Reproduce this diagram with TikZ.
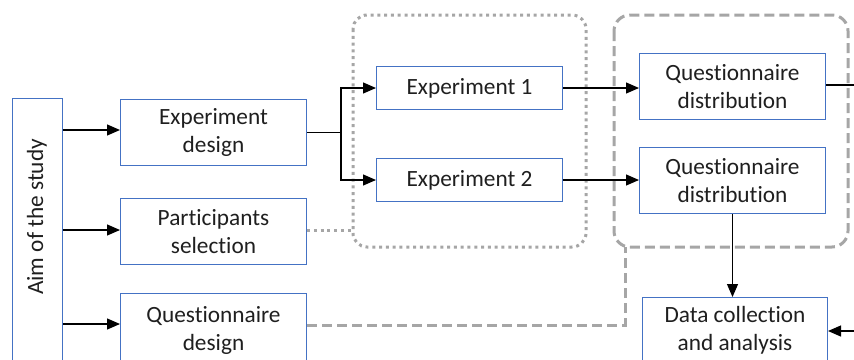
\documentclass[tikz,border=0pt]{standalone}
\usepackage{fontspec}
\setmainfont[Ligatures=NoCommon]{Carlito}
\usetikzlibrary{arrows.meta}
\definecolor{boxblue}{RGB}{68,114,196}
\definecolor{grp}{RGB}{166,166,166}
\begin{document}
\begin{tikzpicture}[x=1pt,y=-1pt,
  box/.style={draw=boxblue,line width=1pt,anchor=north west,inner sep=0pt,
    align=center,font=\fontsize{23.3}{28}\selectfont,text=black!88},
  arr/.style={line width=1.2pt,-{Triangle[length=13pt,width=11pt]}},
  conn/.style={line width=1.2pt},
  dotgrp/.style={draw=grp,line width=3pt,dash pattern=on 3pt off 3.8pt,rounded corners=14pt},
  dashgrp/.style={draw=grp,line width=3pt,dash pattern=on 10pt off 5pt,rounded corners=16pt}]
\useasboundingbox (0,0) rectangle (854,359);
\clip (0,0) rectangle (854,359);
% groups
\draw[dotgrp] (353,15) rectangle (586,247);
\coordinate (grpAleft) at (353,230);
\draw[dashgrp] (614,15) rectangle (848,247);
\coordinate (grpBbottom) at (625,247);
% boxes
\node[box,minimum width=50pt,minimum height=290pt] (aim) at (12,98) {};
\node[rotate=90,font=\fontsize{23.3}{28}\selectfont,text=black!88] (aimtext) at (37,217) {Aim of the study};
\node[box,minimum width=186pt,minimum height=66pt] (ed) at (120,99) {Experiment\\design};
\node[box,minimum width=186pt,minimum height=66pt] (ps) at (120,198) {Participants\\selection};
\node[box,minimum width=186pt,minimum height=74pt] (qdes) at (120,293) {Questionnaire\\design};
\node[box,minimum width=186pt,minimum height=43pt] (e1) at (376,66) {Experiment 1};
\node[box,minimum width=186pt,minimum height=43pt] (e2) at (376,158) {Experiment 2};
\node[box,minimum width=186pt,minimum height=66pt] (qd1) at (639,53) {Questionnaire\\distribution};
\node[box,minimum width=186pt,minimum height=66pt] (qd2) at (639,147) {Questionnaire\\distribution};
\node[box,minimum width=185pt,minimum height=66pt] (dc) at (642,297) {Data collection\\and analysis};
% connectors
\draw[arr] (aim.east |- 0,130) -- (ed.west |- 0,130);
\draw[arr] (aim.east |- 0,230) -- (ps.west |- 0,230);
\draw[arr] (aim.east |- 0,324) -- (qdes.west |- 0,324);
\draw[conn] (ed.east) -- (ed.east -| 341,0) coordinate (split);
\draw[arr] (split) |- (e1.west);
\draw[arr] (split) |- (e2.west);
\draw[draw=grp,line width=3pt,dash pattern=on 3pt off 3.8pt] (ps.east |- grpAleft) -- (grpAleft);
\draw[arr] (e1.east |- 0,88) -- (qd1.west |- 0,88);
\draw[arr] (e2.east |- 0,180) -- (qd2.west |- 0,180);
\coordinate (outR) at (860,85);
\draw[conn] (qd1.east |- outR) -- (outR);
\draw[arr] (qd2.south) -- (dc.north -| qd2.south);
\coordinate (inR) at (860,331);
\draw[arr] (inR) -- (dc.east |- inR);
\draw[draw=grp,line width=3pt,dash pattern=on 10pt off 5pt] (qdes.east |- 0,325) -| (grpBbottom);
\end{tikzpicture}
\end{document}
